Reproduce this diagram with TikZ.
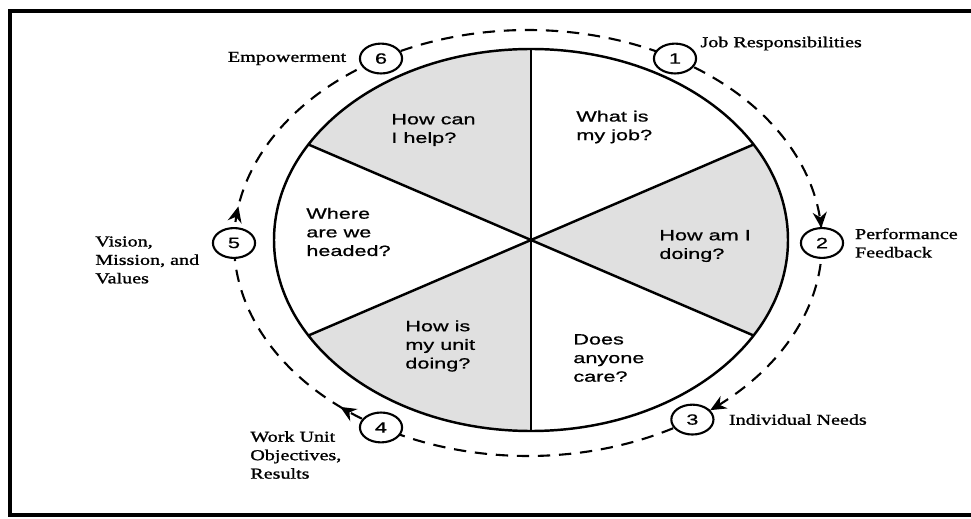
\documentclass[tikz,border=0pt]{standalone}
\usepackage{fontspec}
\setmainfont{Liberation Serif}[FakeStretch=1.33, FakeBold=1.2]
\newfontfamily\qfont{Liberation Sans}[FakeStretch=1.45, FakeBold=0.8]
\usetikzlibrary{arrows.meta, positioning, calc, shapes.geometric, decorations.markings, backgrounds}
\tikzset{
	wheel/.style    ={draw=black, line width=1.4pt},
	sector/.style   ={fill=black!12},
	stage/.style    ={ellipse, draw=black, line width=1.2pt, fill=white, minimum width=24pt, minimum height=17pt, inner sep=0pt, font=\qfont\fontsize{8.5}{10}\selectfont},
	stagelbl/.style ={align=left, inner sep=0pt, font=\fontsize{8.6}{10.5}\selectfont},
	question/.style ={align=left, inner sep=0pt, font=\qfont\fontsize{8.5}{10.6}\selectfont},
	loopline/.style ={line width=1.2pt, dash pattern=on 7pt off 5pt},
	tipat/.style    ={postaction={decorate, decoration={markings, mark=at position #1 with {\arrow{Stealth[length=9pt, width=8pt]}}}}},
	frame/.style    ={line width=2.3pt},
}
\begin{document}
\begin{tikzpicture}[x=0.02cm, y=0.02cm]
	\useasboundingbox (0,0) rectangle (971,518);
	\draw[frame] (971,507) -- (10,507) -- (10,3) -- (971,3);
	% the wheel
	\coordinate (hub) at (531,278);
	\foreach \a in {90,-30,210}
		\fill[sector] (hub) -- ++(\a:257 and 191) arc[start angle=\a, end angle=\a+60, x radius=257, y radius=191] -- cycle;
	\foreach \a in {30,90,...,330}
		\draw[wheel] (hub) -- ++(\a:257 and 191);
	\draw[wheel] (hub) ellipse[x radius=257, y radius=191];
	\node[question, anchor=west] (q1) at (576,391) {What is\\my job?};
	\node[question, anchor=west] (q2) at (659,272) {How am I\\doing?};
	\node[question, anchor=west] (q3) at (573,160) {Does\\anyone\\care?};
	\node[question, anchor=west] (q4) at (405,172) {How is\\my unit\\doing?};
	\node[question, anchor=west] (q5) at (306,286) {Where\\are we\\headed?};
	\node[question, anchor=west] (q6) at (391,388) {How can\\I help?};
	% the six stages
	\coordinate (loop) at (528,275);
	\foreach \n/\a in {1/60, 2/0, 3/-56, 4/240, 5/180, 6/120}
		\node[stage] (e\n) at ([shift={(\a:294 and 213)}]loop) {\n};
	\begin{scope}[on background layer]
		\draw[loopline] (e6.center) arc[start angle=120, end angle=60, x radius=294, y radius=213];
		\draw[loopline, tipat=-8.5pt] (e1.center) arc[start angle=60, end angle=0, x radius=294, y radius=213];
		\draw[loopline, tipat=-11.5pt] (e2.center) arc[start angle=0, end angle=-56, x radius=294, y radius=213];
		\draw[loopline] (e3.center) arc[start angle=-56, end angle=-120, x radius=294, y radius=213];
		\draw[loopline, tipat=26pt] (e4.center) arc[start angle=240, end angle=180, x radius=294, y radius=213];
		\draw[loopline, tipat=21pt] (e5.center) arc[start angle=180, end angle=120, x radius=294, y radius=213];
	\end{scope}
	\node[stagelbl, left=7pt of e6] (l6) {Empowerment};
	\node[stagelbl, anchor=west] (l1) at ([shift={(3,15)}]e1.east) {Job Responsibilities};
	\node[stagelbl, right=6pt of e2] (l2) {Performance\\Feedback};
	\node[stagelbl, right=8pt of e3] (l3) {Individual Needs};
	\node[stagelbl, anchor=west] (l4) at (250,63) {Work Unit\\Objectives,\\Results};
	\node[stagelbl, anchor=west] (l5) at (95,258) {Vision,\\Mission, and\\Values};
\end{tikzpicture}
\end{document}
